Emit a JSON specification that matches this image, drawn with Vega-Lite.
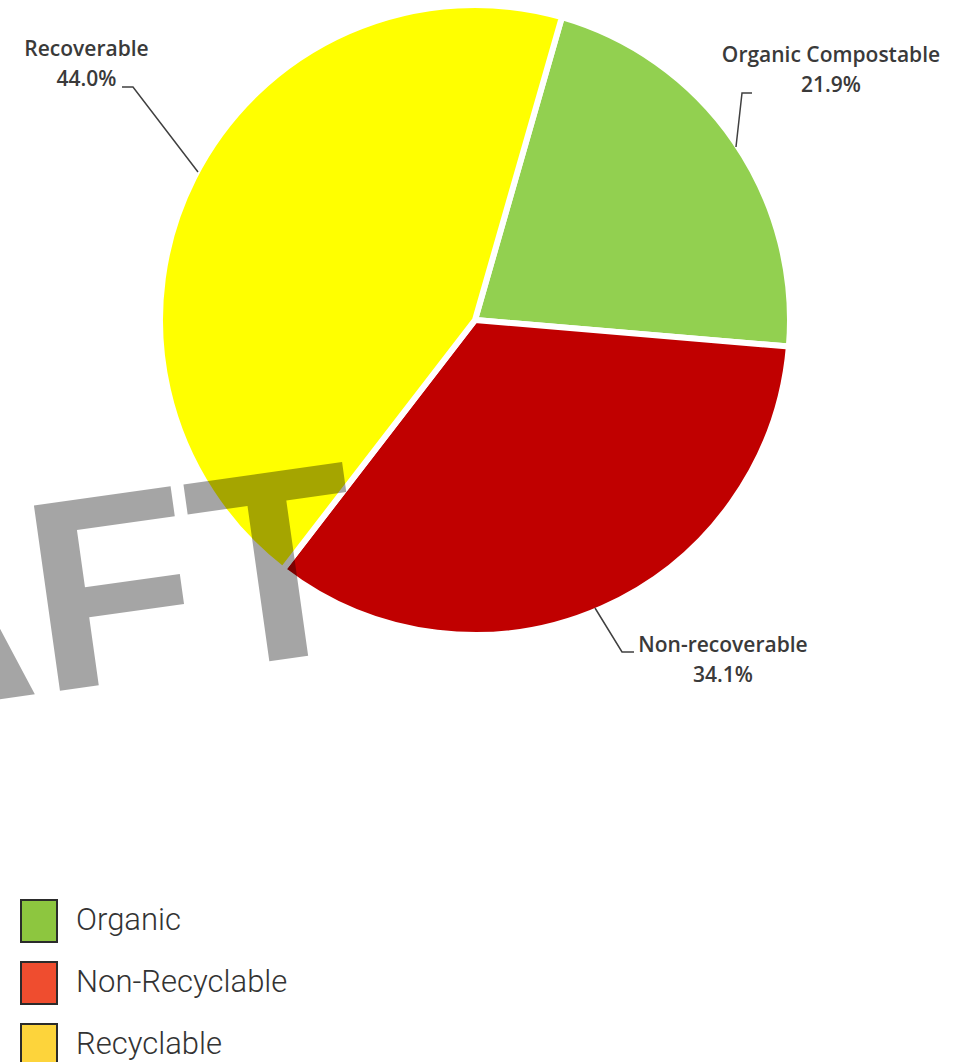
{
  "$schema": "https://vega.github.io/schema/vega-lite/v6.json",
  "width": 967,
  "height": 1062,
  "padding": 0,
  "autosize": {"type": "none"},
  "background": "white",
  "config": {"view": {"stroke": null}},
  "datasets": {
    "pie": [
      {"category": "Organic Compostable", "pct": 21.9, "ord": 1},
      {"category": "Non-recoverable", "pct": 34.1, "ord": 2},
      {"category": "Recoverable", "pct": 44.0, "ord": 3}
    ],
    "leaders": [
      {"grp": "Recoverable", "k": 1, "u": -1.1314, "v": 0.7468},
      {"grp": "Recoverable", "k": 2, "u": -1.0962, "v": 0.7468},
      {"grp": "Recoverable", "k": 3, "u": -0.8878, "v": 0.4744},
      {"grp": "Organic Compostable", "k": 1, "u": 0.8878, "v": 0.7276},
      {"grp": "Organic Compostable", "k": 2, "u": 0.8558, "v": 0.7276},
      {"grp": "Organic Compostable", "k": 3, "u": 0.8365, "v": 0.5545},
      {"grp": "Non-recoverable", "k": 1, "u": 0.3846, "v": -0.9231},
      {"grp": "Non-recoverable", "k": 2, "u": 0.4712, "v": -1.0641},
      {"grp": "Non-recoverable", "k": 3, "u": 0.5096, "v": -1.0641}
    ],
    "labels": [
      {"label": "Recoverable\n44.0%", "u": -1.2452, "v": 0.8638},
      {"label": "Organic Compostable\n21.9%", "u": 1.141, "v": 0.8462},
      {"label": "Non-recoverable\n34.1%", "u": 0.7949, "v": -1.0449}
    ],
    "mark": [
      {"t": "DRAFT", "u": -0.3333, "v": -1.0481}
    ],
    "legend": [
      {"legend": "Organic"},
      {"legend": "Non-Recyclable"},
      {"legend": "Recyclable"}
    ]
  },
  "layer": [
    {
      "data": {"name": "pie"},
      "mark": {"type": "arc", "outerRadius": 315, "stroke": "white", "strokeWidth": 6},
      "encoding": {
        "x": {"datum": 0, "type": "quantitative", "scale": {"domain": [-1.52244, 1.57692], "nice": false, "zero": false}, "axis": null},
        "y": {"datum": 0, "type": "quantitative", "scale": {"domain": [-2.37821, 1.02564], "nice": false, "zero": false}, "axis": null},
        "theta": {"field": "pct", "type": "quantitative", "stack": true, "scale": {"range": [0.2793, 6.5625]}},
        "order": {"field": "ord", "type": "quantitative"},
        "color": {
          "field": "category", "type": "nominal",
          "scale": {"domain": ["Organic Compostable", "Non-recoverable", "Recoverable"], "range": ["#92d050", "#c00000", "#ffff00"]},
          "legend": null
        }
      }
    },
    {
      "data": {"name": "leaders"},
      "mark": {"type": "line", "stroke": "#404040", "strokeWidth": 1.5},
      "encoding": {
        "x": {"field": "u", "type": "quantitative"},
        "y": {"field": "v", "type": "quantitative"},
        "detail": {"field": "grp"},
        "order": {"field": "k", "type": "quantitative"}
      }
    },
    {
      "data": {"name": "labels"},
      "mark": {"type": "text", "lineBreak": "\n", "lineHeight": 30, "font": "Open Sans", "fontSize": 21, "fontWeight": 600, "fill": "#3a3a3a", "align": "center", "baseline": "middle"},
      "encoding": {
        "x": {"field": "u", "type": "quantitative"},
        "y": {"field": "v", "type": "quantitative"},
        "text": {"field": "label"}
      }
    },
    {
      "data": {"name": "mark"},
      "mark": {"type": "text", "font": "Liberation Sans", "fontWeight": "bold", "fontSize": 272, "fill": "#000000", "opacity": 0.35, "align": "right", "baseline": "alphabetic", "angle": 352},
      "encoding": {
        "x": {"field": "u", "type": "quantitative"},
        "y": {"field": "v", "type": "quantitative"},
        "text": {"field": "t"}
      }
    },
    {
      "data": {"name": "legend"},
      "mark": {"type": "point", "shape": "square", "filled": true, "opacity": 0},
      "encoding": {
        "x": {"datum": 0, "type": "quantitative"},
        "y": {"datum": 0, "type": "quantitative"},
        "color": {
          "field": "legend", "type": "nominal",
          "scale": {"domain": ["Organic", "Non-Recyclable", "Recyclable"], "range": ["#8dc63f", "#ef4d2f", "#fdd43b"]},
          "legend": {
            "orient": "none", "legendX": 17, "legendY": 899, "title": null, "padding": 0,
            "symbolType": "M-0.857,-1H0.857V1H-0.857Z", "symbolSize": 1764,
            "symbolStrokeColor": "#2b2b2b", "symbolStrokeWidth": 2, "symbolOpacity": 1,
            "labelFont": "Roboto", "labelFontSize": 31, "labelFontWeight": 300, "labelColor": "#333333",
            "labelOffset": 15, "rowPadding": 12, "labelLimit": 0
          }
        }
      }
    }
  ],
  "resolve": {"scale": {"color": "independent"}, "legend": {"color": "independent"}}
}
